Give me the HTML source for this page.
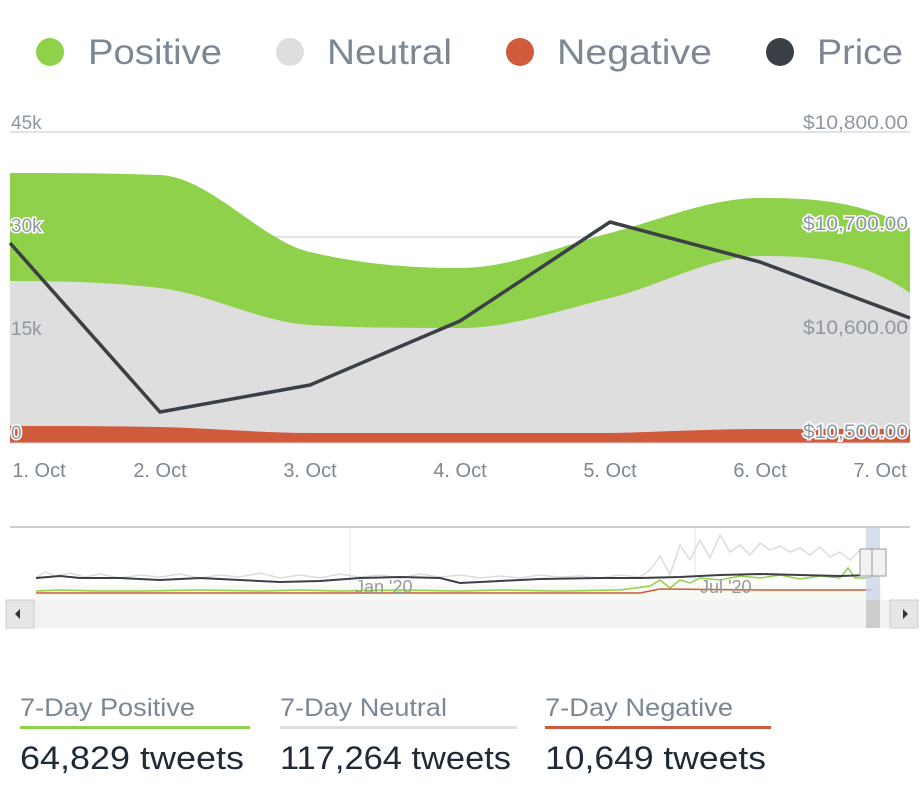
<!DOCTYPE html>
<html><head><style>
body{margin:0;width:920px;height:798px;background:#fff;font-family:"Liberation Sans",sans-serif;overflow:hidden}
</style></head><body>
<svg width="920" height="798" xmlns="http://www.w3.org/2000/svg" font-family="Liberation Sans, sans-serif">
<!-- legend -->
<circle cx="50" cy="52" r="14" fill="#8fd14a"/>
<text x="88" y="64" font-size="35" fill="#7b8793" textLength="134" lengthAdjust="spacingAndGlyphs">Positive</text>
<circle cx="290" cy="52" r="14" fill="#dedede"/>
<text x="327" y="64" font-size="35" fill="#7b8793" textLength="125" lengthAdjust="spacingAndGlyphs">Neutral</text>
<circle cx="520" cy="52" r="14" fill="#cf5a3c"/>
<text x="557" y="64" font-size="35" fill="#7b8793" textLength="155" lengthAdjust="spacingAndGlyphs">Negative</text>
<circle cx="780" cy="52" r="14" fill="#3b3f46"/>
<text x="817" y="64" font-size="35" fill="#7b8793" textLength="86" lengthAdjust="spacingAndGlyphs">Price</text>
<!-- grid -->
<line x1="10" y1="132" x2="910" y2="132" stroke="#e3e3e3" stroke-width="2"/>
<line x1="10" y1="237" x2="910" y2="237" stroke="#e3e3e3" stroke-width="2"/>
<line x1="10" y1="340" x2="910" y2="340" stroke="#e3e3e3" stroke-width="2"/>
<path d="M10,173 C60,173 110,173 160,175 C210,177 260,240 310,252 C360,264 410,268 460,268 C510,268 560,246 610,233 C660,220 710,198 760,198 C810,198 860,200 910,228 L910,443 L10,443 Z" fill="#8fd14a"/>
<path d="M10,281 C60,281 110,282 160,288 C210,294 260,322 310,325 C360,328 410,328 460,328 C510,328 560,310 610,298 C660,286 710,256 760,256 C810,256 860,258 910,293 L910,443 L10,443 Z" fill="#dedede"/>
<path d="M10,426 C60,426 110,426 160,427 C210,428 260,433 310,433 L610,433 C660,432 710,429 760,429 L910,429 L910,443 L10,443 Z" fill="#cf5a3c"/>
<line x1="10" y1="443" x2="910" y2="443" stroke="#d8d8d8" stroke-width="1"/>
<polyline points="10,243 160,412 310,385 460,321 610,222 760,262 910,318" fill="none" stroke="#3b3f46" stroke-width="3.5" stroke-linejoin="round"/>
<g font-size="19" fill="#8d97a3">
<text x="11" y="129">45k</text>
<text x="11" y="232" stroke="#fff" stroke-width="3" paint-order="stroke">30k</text>
<text x="11" y="335">15k</text>
<text x="11" y="439" stroke="#fff" stroke-width="3" paint-order="stroke">0</text>
<g text-anchor="end">
<text x="908" y="129" textLength="105" lengthAdjust="spacingAndGlyphs">$10,800.00</text>
<text x="908" y="230" stroke="#fff" stroke-width="3" paint-order="stroke" textLength="105" lengthAdjust="spacingAndGlyphs">$10,700.00</text>
<text x="908" y="334" textLength="105" lengthAdjust="spacingAndGlyphs">$10,600.00</text>
<text x="908" y="438" stroke="#fff" stroke-width="3" paint-order="stroke" textLength="105" lengthAdjust="spacingAndGlyphs">$10,500.00</text>
</g>
</g>
<g font-size="20" fill="#7b8793" text-anchor="middle">
<text x="39" y="477">1. Oct</text>
<text x="160" y="477">2. Oct</text>
<text x="310" y="477">3. Oct</text>
<text x="460" y="477">4. Oct</text>
<text x="610" y="477">5. Oct</text>
<text x="760" y="477">6. Oct</text>
<text x="880" y="477">7. Oct</text>
</g>
<!-- navigator -->
<line x1="10" y1="527" x2="910" y2="527" stroke="#cfcfcf" stroke-width="2"/>
<line x1="350" y1="528" x2="350" y2="600" stroke="#e6e6e6"/>
<line x1="695" y1="528" x2="695" y2="600" stroke="#e6e6e6"/>
<rect x="36" y="585" width="846" height="15" fill="#f6faf2"/>
<polyline points="36,578 45,572 55,576 70,573 85,577 100,574 120,578 140,575 160,577 180,574 200,578 220,575 240,577 260,573 280,578 300,575 320,578 340,574 360,577 380,575 400,578 420,574 440,577 460,575 480,578 500,576 520,578 540,575 560,577 580,576 600,578 620,575 640,577 650,570 660,556 670,575 680,545 690,560 700,540 710,558 720,535 730,552 740,545 750,555 760,543 770,550 780,546 790,552 800,548 810,555 820,547 830,557 840,552 850,560 860,550 872,560" fill="none" stroke="#dcdcdc" stroke-width="1.5"/>
<polyline points="36,591 60,590 100,591 140,591 200,590 260,591 300,590 340,591 400,590 460,591 500,590 560,591 620,590 650,586 660,580 670,588 680,580 690,583 700,578 720,580 740,576 760,578 780,575 800,579 820,576 840,578 848,568 855,578 872,578" fill="none" stroke="#8fd14a" stroke-width="1.5"/>
<polyline points="36,593 200,593 400,593 640,593 660,589 760,590 872,590" fill="none" stroke="#cf5a3c" stroke-width="1.5"/>
<polyline points="36,578 60,576 80,578 120,578 160,580 200,578 240,580 280,582 320,581 360,578 400,577 440,578 460,583 500,581 540,579 600,578 640,578 680,577 720,575 760,574 800,575 840,576 872,575" fill="none" stroke="#3b3f46" stroke-width="2"/>
<text x="355" y="593" font-size="18" fill="#999">Jan '20</text>
<text x="700" y="593" font-size="18" fill="#999">Jul '20</text>
<rect x="866" y="528" width="14" height="100" fill="#ccd6e6" opacity="0.8"/>
<rect x="860" y="549" width="14" height="27" fill="#f2f2f2" stroke="#999"/>
<rect x="872" y="549" width="14" height="27" fill="#f2f2f2" stroke="#999"/>
<rect x="6" y="600" width="912" height="28" fill="#f2f2f2"/>
<rect x="6" y="600" width="28" height="28" fill="#e6e6e6" stroke="#ccc"/>
<polygon points="15,614 20,609 20,619" fill="#333"/>
<rect x="890" y="600" width="28" height="28" fill="#e6e6e6" stroke="#ccc"/>
<polygon points="908,614 903,609 903,619" fill="#333"/>
<rect x="866" y="600" width="14" height="28" fill="#cccccc"/>
<!-- stats -->
<g font-size="25" fill="#7b8793">
<text x="20" y="716" textLength="175" lengthAdjust="spacingAndGlyphs">7-Day Positive</text>
<text x="280" y="716" textLength="167" lengthAdjust="spacingAndGlyphs">7-Day Neutral</text>
<text x="545" y="716" textLength="188" lengthAdjust="spacingAndGlyphs">7-Day Negative</text>
</g>
<rect x="20" y="726" width="230" height="3" fill="#8fd14a"/>
<rect x="280" y="726" width="237" height="3" fill="#dedede"/>
<rect x="545" y="726" width="226" height="3" fill="#cf5a3c"/>
<g font-size="32" fill="#1f2a36">
<text x="20" y="769" textLength="224" lengthAdjust="spacingAndGlyphs">64,829 tweets</text>
<text x="280" y="769" textLength="231" lengthAdjust="spacingAndGlyphs">117,264 tweets</text>
<text x="545" y="769" textLength="221" lengthAdjust="spacingAndGlyphs">10,649 tweets</text>
</g>
</svg>
</body></html>
